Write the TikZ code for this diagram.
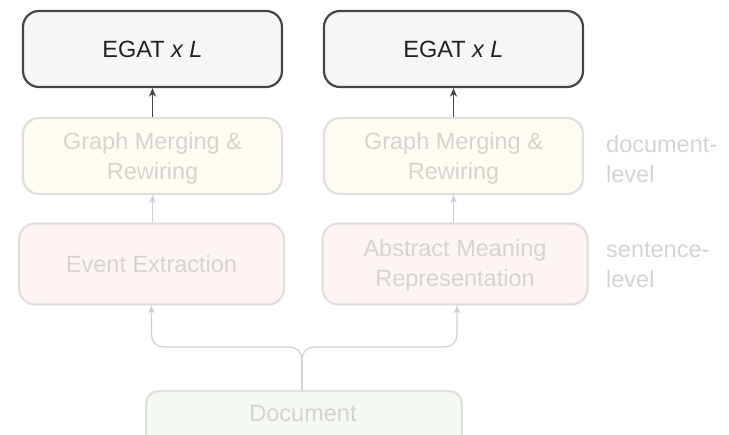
\documentclass[tikz,border=0pt]{standalone}
\usepackage{fontspec}
\setmainfont{Liberation Sans}
\usetikzlibrary{arrows.meta}
\definecolor{egatborder}{HTML}{464646}
\definecolor{egatfill}{HTML}{F6F6F6}
\definecolor{egattext}{HTML}{222222}
\definecolor{fadeborder}{HTML}{E2DEDC}
\definecolor{fadetext}{HTML}{D6D3D1}
\definecolor{graphfill}{HTML}{FFFCF4}
\definecolor{eventfill}{HTML}{FFF4F3}
\definecolor{docfill}{HTML}{F4F9F2}
\definecolor{fadearrow}{HTML}{CFCFCF}
\begin{document}
\begin{tikzpicture}[x=1pt,y=-1pt,
  box/.style={rectangle, rounded corners=16pt, line width=2.2pt, align=center,
    font=\fontsize{23.5}{30}\selectfont, inner sep=0pt},
  egat/.style={box, draw=egatborder, fill=egatfill, text=egattext,
    minimum width=259pt, minimum height=76pt},
  faded/.style={box, draw=fadeborder, text=fadetext},
  gbox/.style={faded, fill=graphfill, minimum width=259pt, minimum height=76pt},
  ebox/.style={faded, fill=eventfill, minimum width=265pt, minimum height=81pt},
  dbox/.style={faded, fill=docfill, rounded corners=13pt, minimum width=316pt, minimum height=70pt},
  lvl/.style={anchor=west, align=left, text=fadetext, inner sep=0pt,
    font=\fontsize{23.5}{30}\selectfont},
  darkarrow/.style={draw=egatborder, line width=1.3pt, -{Stealth[length=8.5pt,width=7pt,inset=2.5pt]}},
  fadearr/.style={draw=fadearrow, line width=1.2pt, -{Stealth[length=8pt,width=6.5pt,inset=2.5pt]}}
]
\useasboundingbox (0,0) rectangle (729,435);
\clip (0,0) rectangle (729,435);

\node[egat] (el) at (152.5,49) {EGAT \textit{x L}};
\node[egat] (er) at (453.5,49) {EGAT \textit{x L}};

\node[gbox] (gl) at (152.5,156) {};
\node[gbox] (gr) at (453.5,156) {};
\node[text=fadetext, align=center, font=\fontsize{23.5}{30}\selectfont, inner sep=0pt] (glt) at (152.5,158) {Graph Merging \&\\Rewiring};
\node[text=fadetext, align=center, font=\fontsize{23.5}{30}\selectfont, inner sep=0pt] (grt) at (453.5,158) {Graph Merging \&\\Rewiring};

\node[ebox] (ev) at (151.5,264) {Event Extraction};
\node[ebox] (amr) at (455,264) {};
\node[text=fadetext, align=center, font=\fontsize{23.5}{30}\selectfont, inner sep=0pt] (amrt) at (455,265) {Abstract Meaning\\Representation};

\node[dbox] (doc) at (304,426) {};
\node[text=fadetext, font=\fontsize{23.5}{29}\selectfont, inner sep=0pt] (doct) at (303,414) {Document};

\node[lvl] (dl) at (606,159) {document-\\level};
\node[lvl] (sl) at (606,265) {sentence-\\level};

\draw[darkarrow] (gl.north) -- (el.south);
\draw[darkarrow] (gr.north) -- (er.south);

\draw[fadearr] (ev.north -| gl.north) -- (gl.south);
\draw[fadearr] (amr.north -| gr.north) -- (gr.south);

\coordinate (split) at (302,347);
\draw[fadearr, rounded corners=12pt] (doc.north -| split) -- (split) -| (ev.south);
\draw[fadearr, rounded corners=12pt] (doc.north -| split) -- (split) -| ([xshift=2pt]amr.south);
\end{tikzpicture}
\end{document}
